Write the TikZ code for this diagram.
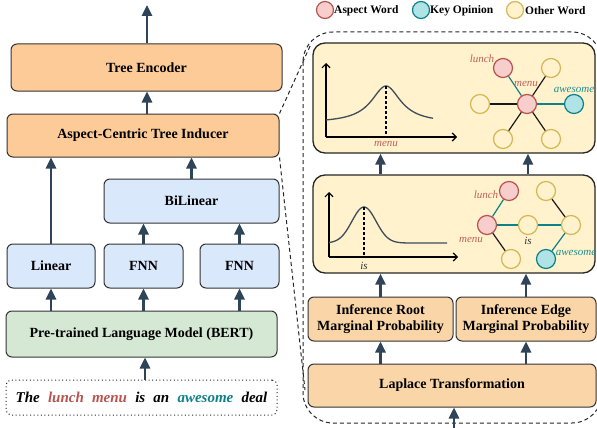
\documentclass[tikz,border=0pt]{standalone}
\usepackage{fontspec}
\setmainfont{Liberation Serif}
\usetikzlibrary{arrows.meta}
\definecolor{orangeL}{HTML}{FDCB98}
\definecolor{orangeR}{HTML}{FAD5A8}
\definecolor{blueF}{HTML}{DAE8FC}
\definecolor{greenF}{HTML}{D5E8D4}
\definecolor{panelF}{HTML}{FFF2CC}
\definecolor{boxline}{HTML}{333333}
\definecolor{arrcol}{HTML}{2F4459}
\definecolor{redF}{HTML}{F8CECC}
\definecolor{redL}{HTML}{B85450}
\definecolor{tealF}{HTML}{B0E3E6}
\definecolor{tealL}{HTML}{0E8088}
\definecolor{yelF}{HTML}{FFF2CC}
\definecolor{yelL}{HTML}{D6B656}
\definecolor{redT}{HTML}{C0605C}
\definecolor{tealT}{HTML}{1A9090}
\definecolor{curvecol}{HTML}{3E4C5C}
\begin{document}
\begin{tikzpicture}[x=1pt,y=-1pt,
  box/.style={draw=boxline, line width=1pt, rounded corners=6pt, inner sep=0pt, align=center,
              font=\fontsize{14}{15.5}\selectfont\bfseries},
  obox/.style={box, fill=orangeL},
  rbox/.style={box, fill=orangeR},
  bbox/.style={box, fill=blueF},
  gbox/.style={box, fill=greenF},
  panel/.style={draw=black!85, line width=1.3pt, rounded corners=12pt, fill=panelF, inner sep=0pt},
  arr/.style={draw=arrcol, line width=2.6pt, -{Triangle[length=11pt,width=10pt]}},
  axis/.style={draw=black, line width=1.2pt, -{Straight Barb[length=4pt,width=8pt]}},
  vdash/.style={draw=black, line width=1.2pt, dash pattern=on 3pt off 2pt},
  curve/.style={draw=curvecol, line width=1.3pt},
  wnode/.style={circle, minimum size=19pt, inner sep=0pt, line width=1.2pt},
  aspectw/.style={wnode, fill=redF, draw=redL},
  opinionw/.style={wnode, fill=tealF, draw=tealL},
  otherw/.style={wnode, fill=yelF, draw=yelL},
  lgw/.style={minimum size=17pt},
  tedge/.style={draw=tealL, line width=1.2pt},
  kedge/.style={draw=black!90, line width=1.2pt},
  lab/.style={font=\fontsize{11}{12}\selectfont\itshape, inner sep=0pt},
  lgtext/.style={anchor=west, inner sep=0pt, font=\fontsize{11.5}{13}\selectfont\bfseries},
  zoomline/.style={draw=black!85, line width=1pt, dash pattern=on 4pt off 3pt}
]
\useasboundingbox (0,0) rectangle (597,428);

% ---------------- Left column ----------------
\node[obox, minimum width=271pt, minimum height=47pt] (enc) at (146.5,67.5) {Tree Encoder};
\node[obox, minimum width=272pt, minimum height=43pt] (ind) at (143,135.5) {Aspect-Centric Tree Inducer};
\node[bbox, minimum width=175pt, minimum height=44pt] (bil) at (191.5,201) {BiLinear};
\node[bbox, minimum width=88pt, minimum height=44pt] (lin) at (51,266) {Linear};
\node[bbox, minimum width=79pt, minimum height=44pt] (fnna) at (143.5,266) {FNN};
\node[bbox, minimum width=79pt, minimum height=44pt] (fnnb) at (239.5,266) {FNN};
\node[gbox, minimum width=271pt, minimum height=46pt] (bert) at (141.5,334) {Pre-trained Language Model (BERT)};
\node[draw=black!85, line width=1pt, dash pattern=on 1pt off 2.6pt, rounded corners=5pt,
      minimum width=271pt, minimum height=35pt, inner sep=0pt,
      font=\fontsize{15}{17}\selectfont\bfseries\itshape] (sent) at (141.5,397.5)
  {The\hspace{8.2pt}\textcolor{redL}{lunch}\hspace{8.2pt}\textcolor{redL}{menu}\hspace{8.2pt}is\hspace{8.2pt}an\hspace{8.2pt}\textcolor{tealL}{awesome}\hspace{8.2pt}deal};

\coordinate (topout) at (147,5);
\draw[arr] (enc.north -| topout) -- (topout);
\draw[arr] (ind.north -| topout) -- (enc.south -| topout);
\draw[arr] (lin.north) -- (lin.north |- ind.south);
\draw[arr] (bil.north) -- (bil.north |- ind.south);
\draw[arr] (fnna.north) -- (fnna.north |- bil.south);
\draw[arr] (fnnb.north) -- (fnnb.north |- bil.south);
\draw[arr] (lin.south |- bert.north) -- (lin.south);
\draw[arr] (fnna.south |- bert.north) -- (fnna.south);
\draw[arr] (fnnb.south |- bert.north) -- (fnnb.south);
\draw[arr] ([xshift=3.5pt]sent.north) -- ([xshift=3.5pt]sent.north |- bert.south);

% ---------------- Legend ----------------
\node[aspectw, lgw] (lga) at (325,10) {};
\node[lgtext] (lgat) at (334,11) {Aspect Word};
\node[opinionw, lgw] (lgo) at (421,10) {};
\node[lgtext] (lgot) at (430,11) {Key Opinion};
\node[otherw, lgw] (lgx) at (515,10) {};
\node[lgtext] (lgxt) at (525,11) {Other Word};

% ---------------- Zoom region ----------------
\draw[zoomline, rounded corners=30pt] (303,32) rectangle (602,423);
\coordinate (ztop) at (311,44);
\coordinate (zbot) at (305,390);
\draw[zoomline] (ind.north east) -- (ztop);
\draw[zoomline] (ind.south east) -- (zbot);

% panels
\node[panel, minimum width=282pt, minimum height=110pt] (pa) at (454,98) {};
\node[panel, minimum width=282pt, minimum height=98pt] (pb) at (454,224) {};
\node[rbox, minimum width=145pt, minimum height=44pt] (root) at (380.5,319) {Inference Root\\Marginal Probability};
\node[rbox, minimum width=140pt, minimum height=44pt] (edge) at (526,319) {Inference Edge\\Marginal Probability};
\node[rbox, minimum width=288pt, minimum height=43pt] (lap) at (452,385.5) {Laplace Transformation};

\coordinate (lapin) at (454,428);
\draw[arr] (lapin) -- (lap.south -| lapin);
\draw[arr] (lap.north -| root.south) -- (root.south);
\draw[arr] (lap.north -| edge.south) -- (edge.south);
\draw[arr] (root.north) -- (root.north |- pb.south);
\draw[arr] (edge.north) -- (edge.north |- pb.south);
\draw[arr] (root.north |- pb.north) -- (root.north |- pa.south);
\draw[arr] ([xshift=2pt]edge.north |- pb.north) -- ([xshift=2pt]edge.north |- pa.south);

% plot 1
\draw[axis] (326,137) -- (326,63);
\draw[axis] (326,137) -- (457,137);
\draw[curve] plot[domain=326:433, samples=80, smooth] (\x, {123-37/(1+((\x-386)/18)^2)});
\draw[vdash] (386,86) -- (386,137);
\node[lab, text=redT] (pl1) at (386,144) {menu};

% plot 2
\draw[axis] (329,257) -- (329,192);
\draw[axis] (329,257) -- (458,257);
\draw[curve] plot[domain=329:447, samples=80, smooth] (\x, {243-36*exp(-((\x-364)/17)^2)});
\draw[vdash] (364,207) -- (364,257);
\node[lab, text=black!80] (pl2) at (364,266) {is};

% graph 1
\node[aspectw] (c1) at (527,104) {};
\node[aspectw] (l1) at (503,68) {};
\node[otherw] (ur1) at (551,68) {};
\node[otherw] (le1) at (480,104) {};
\node[opinionw] (aw1) at (574,104) {};
\node[otherw] (ll1) at (503,139) {};
\node[otherw] (lr1) at (551,139) {};
\draw[tedge] (c1) -- (l1);
\draw[tedge] (c1) -- (aw1);
\draw[kedge] (c1) -- (ur1);
\draw[kedge] (c1) -- (le1);
\draw[kedge] (c1) -- (ll1);
\draw[kedge] (c1) -- (lr1);
\node[lab, text=redT] (t1a) at (482,59) {lunch};
\node[lab, text=redT] (t1b) at (526,84) {menu};
\node[lab, text=tealT] (t1c) at (574,90) {awesome};

% graph 2
\node[aspectw] (m2) at (487,225) {};
\node[aspectw] (l2) at (509,191) {};
\node[otherw] (is2) at (528,225) {};
\node[otherw] (ur2) at (546,191) {};
\node[otherw] (r2) at (571,225) {};
\node[opinionw] (aw2) at (546,259) {};
\node[otherw] (b2) at (511,259) {};
\draw[tedge] (m2) -- (l2);
\draw[tedge] (m2) -- (is2);
\draw[tedge] (is2) -- (r2);
\draw[tedge] (r2) -- (aw2);
\draw[kedge] (m2) -- (b2);
\draw[kedge] (ur2) -- (r2);
\node[lab, text=redT] (t2a) at (486,195) {lunch};
\node[lab, text=redT] (t2b) at (471,240) {menu};
\node[lab, text=black!80] (t2c) at (528,241) {is};
\node[lab, text=tealT] (t2d) at (576,253) {awesome};
\end{tikzpicture}
\end{document}
